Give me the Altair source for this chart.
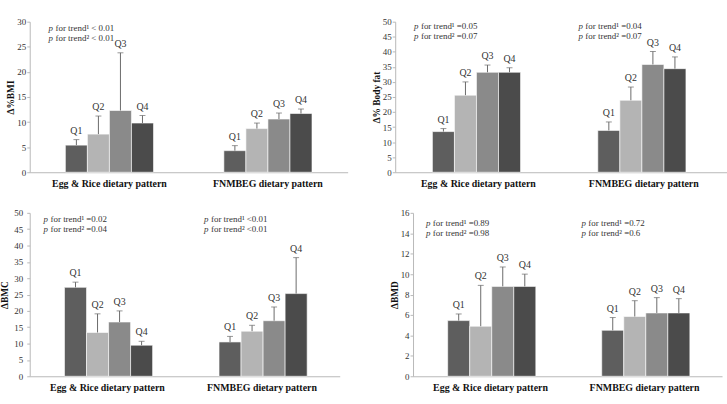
import altair as alt
import pandas as pd

patterns = ["Egg & Rice dietary pattern", "FNMBEG dietary pattern"]
quartiles = ["Q1", "Q2", "Q3", "Q4"]
q_colors = ["#5e5e5e", "#b4b4b4", "#8a8a8a", "#4b4b4b"]

# Means and upper SE limits: Egg & Rice Q1..Q4, then FNMBEG Q1..Q4
bmi_mean = [5.4, 7.6, 12.3, 9.8, 4.3, 8.7, 10.6, 11.7]
bmi_upper = [6.5, 11.2, 23.8, 11.3, 5.3, 9.8, 11.8, 12.6]
fat_mean = [13.5, 25.6, 33.2, 33.2, 13.9, 23.9, 35.8, 34.4]
fat_upper = [14.5, 30.0, 35.6, 34.7, 16.7, 28.3, 40.1, 38.3]
bmc_mean = [27.2, 13.4, 16.6, 9.5, 10.5, 13.8, 17.0, 25.3]
bmc_upper = [28.8, 19.1, 20.0, 10.7, 12.2, 15.6, 21.2, 36.3]
bmd_mean = [5.45, 4.9, 8.8, 8.8, 4.5, 5.85, 6.2, 6.2]
bmd_upper = [6.1, 8.9, 10.7, 10.0, 5.75, 7.4, 7.7, 7.6]

# p for trend (model 1, model 2) per dietary pattern; None where not shown
bmi_trend = [("< 0.01", "< 0.01"), None]
fat_trend = [("=0.05", "=0.07"), ("=0.04", "=0.07")]
bmc_trend = [("=0.02", "=0.04"), ("<0.01", "<0.01")]
bmd_trend = [("=0.89", "=0.98"), ("=0.72", "=0.6")]

SERIF = "Liberation Serif"


def frame(means, uppers):
    rows = []
    for i, p in enumerate(patterns):
        for j, q in enumerate(quartiles):
            k = i * 4 + j
            rows.append({"pattern": p, "q": q, "mean": means[k], "upper": uppers[k]})
    return pd.DataFrame(rows)


def note(text, x, y, italic=False):
    return alt.Chart(pd.DataFrame({"t": [text]})).mark_text(
        align="left", baseline="middle", font=SERIF, fontSize=9,
        fontStyle="italic" if italic else "normal", color="#333333",
    ).encode(x=alt.value(x), y=alt.value(y), text="t:N")


def trend_notes(trend, xs, ys):
    layers = []
    for vals, x in zip(trend, xs):
        if vals is None:
            continue
        for sup, v, y in zip(["\u00b9", "\u00b2"], vals, ys):
            layers.append(note("p", x, y, italic=True))
            layers.append(note(f"for trend{sup} {v}", x + 7, y))
    return layers


def panel(means, uppers, ytitle, ymax, ystep, width, height, trend, xs, ys, label_pad, title_pad):
    df = frame(means, uppers)
    base = alt.Chart(df).encode(
        x=alt.X(
            "pattern:N",
            scale=alt.Scale(domain=patterns, paddingInner=0.444, paddingOuter=0.225),
            axis=alt.Axis(title=None, labelAngle=0, ticks=False, labelFontWeight="bold",
                          labelFontSize=10, labelPadding=6, labelColor="#111111"),
        ),
        xOffset=alt.XOffset("q:N", scale=alt.Scale(domain=quartiles, paddingInner=0, paddingOuter=0)),
    )
    yscale = alt.Scale(domain=[0, ymax], nice=False, zero=True)
    yaxis = alt.Axis(title=ytitle, values=list(range(0, ymax + 1, ystep)), grid=False,
                     labelOverlap=False, labelFlush=False,
                     tickSize=3, labelPadding=label_pad, titlePadding=title_pad)
    bars = base.mark_bar(stroke="#ffffff", strokeWidth=0.6).encode(
        y=alt.Y("mean:Q", scale=yscale, axis=yaxis),
        color=alt.Color("q:N", scale=alt.Scale(domain=quartiles, range=q_colors), legend=None),
    )
    whisker = base.mark_rule(color="#6a6a6a", strokeWidth=1).encode(
        y=alt.Y("mean:Q", scale=yscale, axis=yaxis), y2="upper:Q")
    cap = base.mark_tick(color="#6a6a6a", size=6, thickness=1, orient="horizontal").encode(
        y=alt.Y("upper:Q", scale=yscale, axis=yaxis))
    qlab = base.mark_text(baseline="bottom", dy=-4, font=SERIF, fontSize=10, color="#333333").encode(
        y=alt.Y("upper:Q", scale=yscale, axis=yaxis), text="q:N")
    layers = [bars, whisker, cap, qlab] + trend_notes(trend, xs, ys)
    return alt.layer(*layers).properties(width=width, height=height)


p1 = panel(bmi_mean, bmi_upper, "\u0394%BMI", 30, 5, 321, 152, bmi_trend, [19, 0], [6, 16], 1, 1)
p2 = panel(fat_mean, fat_upper, "\u0394% Body fat", 50, 5, 335, 152, fat_trend, [19, 185], [4, 14], 1, 1)
p3 = panel(bmc_mean, bmc_upper, "\u0394BMC", 50, 5, 313, 165, bmc_trend, [14, 176], [6, 16], 4, 4)
p4 = panel(bmd_mean, bmd_upper, "\u0394BMD", 16, 2, 312, 165, bmd_trend, [13, 170], [10, 20], 1, 1)

chart = alt.vconcat(
    alt.hconcat(p1, p2, spacing=24),
    alt.hconcat(p3, p4, spacing=50),
    spacing=21,
).properties(
    padding={"left": 0, "top": 16, "right": 0, "bottom": 0},
    background="#ffffff",
).configure_view(stroke=None).configure_axis(
    labelFont=SERIF, labelFontSize=9, labelColor="#333333",
    titleFont=SERIF, titleFontSize=9.5, titleFontWeight="bold", titleColor="#111111",
    domainColor="#b8b8b8", tickColor="#b8b8b8",
)

chart.save("out.html", embed_options={"renderer": "svg", "actions": False})
